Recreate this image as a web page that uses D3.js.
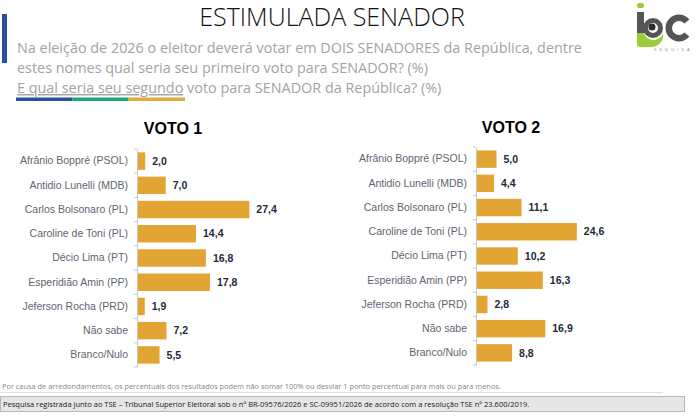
<!DOCTYPE html>
<html lang="pt">
<head>
<meta charset="utf-8">
<title>Estimulada Senador</title>
<script src="https://cdn.jsdelivr.net/npm/d3@7"></script>
<style>
  body { margin: 0; background: #fff; }
  svg { display: block; }
  .cat text { font-family: "Liberation Sans", Arial, sans-serif; font-size: 10.5px; fill: #5f6470; }
  .val { font-family: "Liberation Sans", Arial, sans-serif; font-size: 10.5px; font-weight: bold; fill: #1f2a3c; }
  .ptitle { font-family: "Liberation Sans", Arial, sans-serif; font-size: 16px; font-weight: bold; fill: #000; }
</style>
</head>
<body>
<script>
// values
let candidates = ["Afrânio Boppré (PSOL)", "Antidio Lunelli (MDB)", "Carlos Bolsonaro (PL)",
  "Caroline de Toni (PL)", "Décio Lima (PT)", "Esperidião Amin (PP)",
  "Jeferson Rocha (PRD)", "Não sabe", "Branco/Nulo"]
let voto1 = [2.0, 7.0, 27.4, 14.4, 16.8, 17.8, 1.9, 7.2, 5.5]
let voto2 = [5.0, 4.4, 11.1, 24.6, 10.2, 16.3, 2.8, 16.9, 8.8]
let subtitleLines = [
  "Na eleição de 2026 o eleitor deverá votar em DOIS SENADORES da República, dentre",
  "estes nomes qual seria seu primeiro voto para SENADOR? (%)"
]
let stripeColors = ["#2a4fa0", "#1fa37a", "#e2a93b"]

let w = 700
let h = 420
let barColor = "#e2a533"
let fmt = (v) => d3.format(".1f")(v).replace(".", ",")

let svg = d3.select("body")
  .append("svg")
  .attr("width", w)
  .attr("height", h)

// header
svg.append("rect")
  .attr("x", 2).attr("y", 14)
  .attr("width", 5).attr("height", 49)
  .attr("fill", "#2a4fa0")

svg.append("text")
  .attr("x", 332).attr("y", 26)
  .attr("text-anchor", "middle")
  .style("font-family", "'Open Sans', sans-serif")
  .style("font-weight", 300)
  .style("font-size", "25px")
  .attr("fill", "#111")
  .text("ESTIMULADA SENADOR")

svg.selectAll(".sub")
  .data(subtitleLines)
  .enter()
  .append("text")
  .attr("class", "sub")
  .attr("x", 17)
  .attr("y", (d, i) => 53 + i * 20)
  .style("font-family", "'Open Sans', sans-serif")
  .style("font-size", "14.4px")
  .attr("fill", "#a3a3a3")
  .text((d) => d)

let third = svg.append("text")
  .attr("x", 17).attr("y", 93)
  .style("font-family", "'Open Sans', sans-serif")
  .style("font-size", "14.4px")
  .attr("fill", "#a3a3a3")
third.append("tspan")
  .style("text-decoration", "underline")
  .text("E qual seria seu segundo")
third.append("tspan")
  .text(" voto para SENADOR da República? (%)")

let stripe = d3.scaleBand().domain(d3.range(3)).range([16, 185])
svg.selectAll(".stripe")
  .data(stripeColors)
  .enter()
  .append("rect")
  .attr("x", (d, i) => stripe(i))
  .attr("y", 97.5)
  .attr("width", stripe.bandwidth())
  .attr("height", 3.5)
  .attr("fill", (d) => d)

// logo
let logo = svg.append("g")
logo.append("rect").attr("x", 637).attr("y", 3).attr("width", 7).attr("height", 5).attr("rx", 2).attr("fill", "#9ccc3c")
logo.append("rect").attr("x", 637).attr("y", 12).attr("width", 7).attr("height", 22).attr("fill", "#555")
logo.append("path")
  .attr("d", "M637,33 V44 Q637,47 640,47 H650 A12,12 0 0 0 663,33 A10,10 0 0 1 644,33 Z")
  .attr("fill", "#9ccc3c")
logo.append("circle").attr("cx", 653).attr("cy", 28).attr("r", 7.5).attr("fill", "none").attr("stroke", "#555").attr("stroke-width", 5)
logo.append("circle").attr("cx", 652).attr("cy", 27).attr("r", 3.5).attr("fill", "#2b2b2b")
logo.append("path")
  .attr("d", d3.arc()({innerRadius: 7, outerRadius: 13.5, startAngle: Math.PI * 0.72, endAngle: Math.PI * 2.28}))
  .attr("transform", "translate(679,28)")
  .attr("fill", "#555")
logo.append("text")
  .attr("x", 654).attr("y", 51)
  .style("font-family", "'Open Sans', sans-serif")
  .style("font-size", "4px")
  .style("letter-spacing", "3.2px")
  .attr("fill", "#777")
  .text("ESQUISA")

function drawPanel(values, title, axisX, titleX, titleY, top, bottom) {
  let g = svg.append("g")

  let y = d3.scaleBand()
    .domain(candidates)
    .range([top, bottom])
    .paddingInner(0.28)
    .paddingOuter(0.14)

  let x = d3.scaleLinear()
    .domain([0, 30])
    .range([axisX, axisX + 123])

  g.append("text")
    .attr("class", "ptitle")
    .attr("x", titleX).attr("y", titleY)
    .attr("text-anchor", "middle")
    .text(title)

  g.selectAll("rect")
    .data(values)
    .enter()
    .append("rect")
    .attr("x", x(0))
    .attr("y", (d, i) => y(candidates[i]))
    .attr("width", (d) => x(d) - x(0))
    .attr("height", y.bandwidth())
    .attr("fill", barColor)

  g.selectAll(".val")
    .data(values)
    .enter()
    .append("text")
    .attr("class", "val")
    .attr("x", (d) => x(d) + 7)
    .attr("y", (d, i) => y(candidates[i]) + y.bandwidth() / 2)
    .attr("dy", "0.35em")
    .text((d) => fmt(d))

  let axis = g.append("g")
    .attr("class", "cat")
    .attr("transform", "translate(" + axisX + ",0)")
    .call(d3.axisLeft(y).tickSize(0).tickPadding(9))
  axis.select(".domain").attr("stroke", "#c8c8c8")

  // small ticks sit on the band boundaries
  g.selectAll(".bt")
    .data(d3.range(candidates.length + 1))
    .enter()
    .append("line")
    .attr("x1", axisX - 3).attr("x2", axisX)
    .attr("y1", (i) => top + i * y.step())
    .attr("y2", (i) => top + i * y.step())
    .attr("stroke", "#c8c8c8")
}

drawPanel(voto1, "VOTO 1", 137, 173, 134, 149, 367)
drawPanel(voto2, "VOTO 2", 476, 511, 133, 147, 365)

// footer
svg.append("text")
  .attr("x", 2).attr("y", 389)
  .style("font-family", "'Open Sans', sans-serif")
  .style("font-size", "7.4px")
  .attr("fill", "#858585")
  .text("Por causa de arredondamentos, os percentuais dos resultados podem não somar 100% ou desviar 1 ponto percentual para mais ou para menos.")

svg.append("line")
  .attr("x1", 0).attr("x2", 663)
  .attr("y1", 392.5).attr("y2", 392.5)
  .attr("stroke", "#dde3ec")

svg.append("rect")
  .attr("x", 0.5).attr("y", 396.5)
  .attr("width", 684).attr("height", 15)
  .attr("fill", "#e6e6e6")
  .attr("stroke", "#b5b5b5")

svg.append("text")
  .attr("x", 3).attr("y", 407)
  .style("font-family", "'Open Sans', sans-serif")
  .style("font-size", "7.5px")
  .attr("fill", "#1a1a1a")
  .text("Pesquisa registrada junto ao TSE – Tribunal Superior Eleitoral sob o nº BR-09576/2026 e SC-09951/2026 de acordo com a resolução TSE nº 23.600/2019.")
</script>
</body>
</html>
